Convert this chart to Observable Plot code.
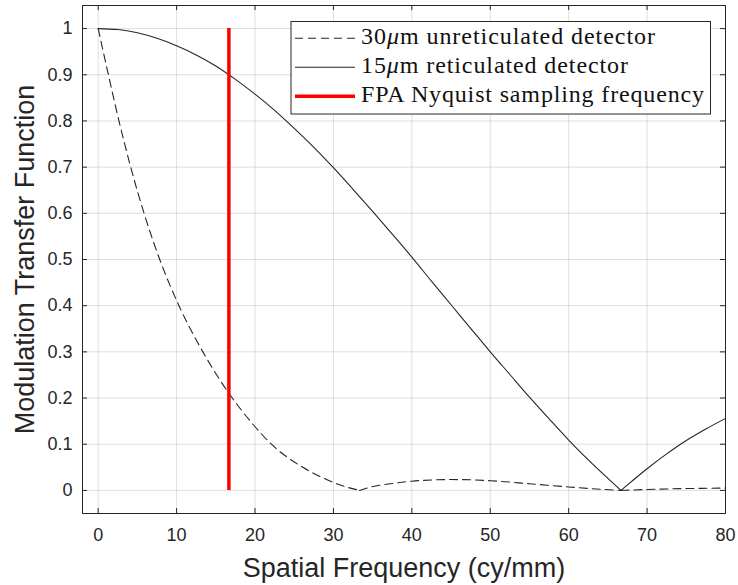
<!DOCTYPE html>
<html><head><meta charset="utf-8">
<script src="https://cdn.jsdelivr.net/npm/d3@7"></script>
<script src="https://cdn.jsdelivr.net/npm/@observablehq/plot@0.6"></script>
<style>
body{margin:0;background:#fff}
#chart{width:738px;height:585px}
</style>
</head><body><div id="chart"></div>
<script>
// ---- data ----
const freqSolid = [0,2.5,5,7.5,10,12.5,15,17.5,20,22.5,25,27.5,30,32.5,35,37.5,40,42.5,45,47.5,50,52.5,55,57.5,60,62.5,65,66.67,67.5,70,72.5,75,77.5,80];
const mtfSolid  = [1,0.998,0.991,0.979,0.963,0.943,0.919,0.890,0.858,0.823,0.784,0.743,0.699,0.652,0.604,0.555,0.505,0.453,0.402,0.351,0.300,0.251,0.202,0.155,0.109,0.066,0.026,0,0.012,0.047,0.079,0.108,0.133,0.156];
const freqDashed = [0,1.3,2.65,4.15,5.85,7.85,10.3,13.35,17.1,19.4,22.1,26.1,28.3,30.4,33.33,35.2,37.3,40,42.5,45,47.5,50,55,60,63.5,66.67,70,75,80];
const mtfDashed  = [1,0.9,0.8,0.7,0.6,0.5,0.4,0.3,0.2,0.15,0.1,0.05,0.03,0.0145,0,0.009,0.0145,0.020,0.0225,0.0235,0.023,0.021,0.0145,0.0075,0.003,0,0.002,0.004,0.005];
const nyquistFreq = 16.67;
const nyquistSpan = [0, 1];
const xTicks = [0,10,20,30,40,50,60,70,80];
const yTicks = [0,0.1,0.2,0.3,0.4,0.5,0.6,0.7,0.8,0.9,1];
const xDomain = [-2, 80];
const yDomain = [-0.05, 1.05];
const xLabel = "Spatial Frequency (cy/mm)";
const yLabel = "Modulation Transfer Function";
const legendItems = [
  {pre:"30", mu:"μ", post:"m unreticulated detector", kind:"dashed"},
  {pre:"15", mu:"μ", post:"m reticulated detector", kind:"solid"},
  {pre:"FPA Nyquist sampling frequency", mu:"", post:"", kind:"red"}
];

// split each curve into lobes at its interior zeros so cusps stay sharp
function lobes(fs, vs){
  let seg=0; const out=[];
  fs.forEach((f,i)=>{
    out.push({f, v:vs[i], seg});
    if(vs[i]===0 && i>0 && i<fs.length-1){ seg++; out.push({f, v:vs[i], seg}); }
  });
  return out;
}
const solidData = lobes(freqSolid, mtfSolid);
const dashedData = lobes(freqDashed, mtfDashed);

// ---- layout ----
const W=738, H=585, mL=82, mR=13, mT=5, mB=72;
const pw=W-mL-mR, ph=H-mT-mB;
const ink="#262626";
const dash="8,5";

const svg = Plot.plot({
  width:W, height:H, marginLeft:mL, marginRight:mR, marginTop:mT, marginBottom:mB,
  x:{domain:xDomain}, y:{domain:yDomain},
  style:{fontFamily:"'Liberation Sans', Arial, sans-serif", color:ink, background:"white"},
  marks:[
    Plot.gridX(xTicks,{stroke:ink, strokeOpacity:0.15, strokeWidth:1}),
    Plot.gridY(yTicks,{stroke:ink, strokeOpacity:0.15, strokeWidth:1}),
    Plot.line(dashedData,{x:"f", y:"v", z:"seg", curve:"monotone-x", stroke:ink, strokeWidth:1.1, strokeDasharray:dash}),
    Plot.line(solidData,{x:"f", y:"v", z:"seg", curve:"monotone-x", stroke:ink, strokeWidth:1.1}),
    Plot.ruleX([nyquistFreq],{x:d=>d, y1:nyquistSpan[0], y2:nyquistSpan[1], stroke:"#ff0000", strokeWidth:3.5}),
    Plot.tickX(xTicks,{x:d=>d, stroke:ink, insetTop:ph-5}),
    Plot.tickX(xTicks,{x:d=>d, stroke:ink, insetBottom:ph-5}),
    Plot.tickY(yTicks,{y:d=>d, stroke:ink, insetRight:pw-5}),
    Plot.tickY(yTicks,{y:d=>d, stroke:ink, insetLeft:pw-5}),
    Plot.frame({stroke:ink}),
    Plot.axisX(xTicks,{anchor:"bottom", tickSize:0, tickPadding:15, fontSize:18, label:null, tickFormat:d=>String(d)}),
    Plot.axisY(yTicks,{anchor:"left", tickSize:0, tickPadding:10, fontSize:18, label:null, tickFormat:d=>(d===0||d===1)?String(d):d.toFixed(1)}),
    Plot.text([xLabel],{text:d=>d, frameAnchor:"bottom", lineAnchor:"middle", textAnchor:"middle", dy:55, fontSize:27, fill:ink}),
    Plot.text([yLabel],{text:d=>d, frameAnchor:"left", lineAnchor:"middle", textAnchor:"middle", dx:-57, rotate:-90, fontSize:27, fill:ink})
  ]
});
document.getElementById("chart").appendChild(svg);

// ---- legend (inside plot, top right) ----
const lg = d3.select(svg).append("g").attr("class","legend");
lg.append("rect").attr("x",291).attr("y",21.5).attr("width",419.5).attr("height",92.5)
  .attr("fill","white").attr("stroke",ink).attr("stroke-width",1);
const rowLineY=[38.3,67.3,96.3], rowBase=[44.3,73.3,102.3], rowLen=[294,267,343];
legendItems.forEach((it,i)=>{
  const ln = lg.append("line").attr("x1",295).attr("x2",355).attr("y1",rowLineY[i]).attr("y2",rowLineY[i]);
  if(it.kind==="dashed") ln.attr("stroke",ink).attr("stroke-width",1.1).attr("stroke-dasharray",dash);
  else if(it.kind==="solid") ln.attr("stroke",ink).attr("stroke-width",1.1);
  else ln.attr("stroke","#ff0000").attr("stroke-width",3.5);
  const t = lg.append("text").attr("x",361).attr("y",rowBase[i]).attr("text-anchor","start")
    .attr("font-family","'Liberation Serif','Times New Roman',serif").attr("font-size",24).attr("fill","#111")
    .attr("textLength",rowLen[i]).attr("lengthAdjust","spacing");
  t.append("tspan").text(it.pre);
  if(it.mu){ t.append("tspan").attr("font-style","italic").text(it.mu); t.append("tspan").text(it.post); }
});
</script>
</body></html>
